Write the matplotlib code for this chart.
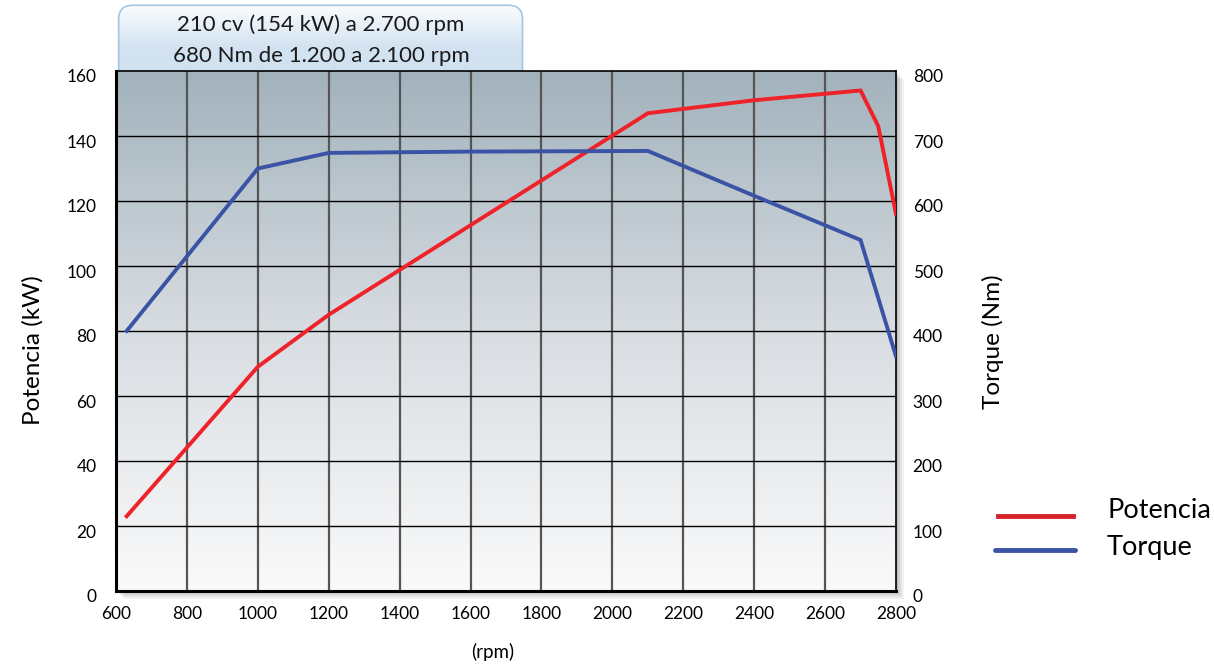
import numpy as np
import matplotlib
matplotlib.use("Agg")
import matplotlib.pyplot as plt
from matplotlib.patches import FancyBboxPatch, Rectangle
from matplotlib.transforms import ScaledTranslation

plt.rcParams['font.family'] = ['Lato', 'DejaVu Sans']

# data
rpm_power = [630, 1000, 1200, 2100, 2400, 2700, 2750, 2800]
power_kw = [23, 69, 85, 147, 151, 154, 143, 116]
rpm_torque = [630, 1000, 1200, 1600, 2100, 2400, 2700, 2800]
torque_nm = [400, 650, 674, 676, 677, 608, 540, 361]

x_ticks = [600, 800, 1000, 1200, 1400, 1600, 1800, 2000, 2200, 2400, 2600, 2800]
kw_ticks = [0, 20, 40, 60, 80, 100, 120, 140, 160]
nm_ticks = [0, 100, 200, 300, 400, 500, 600, 700, 800]
title_lines = ["210 cv (154 kW) a 2.700 rpm", "680 Nm de 1.200 a 2.100 rpm"]

fig = plt.figure(figsize=(12.14, 6.67), dpi=100)
W, H = 1214, 667
l, r, t, b = 116, 896, 71, 591

# title box (sits behind the plot area)
box_ax = fig.add_axes([117 / W, 1 - 90 / H, 408 / W, 86 / H], zorder=0)
box_ax.set_xlim(0, 1)
box_ax.set_ylim(0, 1)
box_ax.axis('off')
grad_box = np.linspace(0, 1, 100).reshape(-1, 1)
img = box_ax.imshow(grad_box, extent=[0, 1, 0, 1], aspect='auto', origin='lower',
                    cmap=matplotlib.colors.LinearSegmentedColormap.from_list('b', ['#cddff0', '#d3e3f1', '#fbfdff']))
box = FancyBboxPatch((0.004, 0.0), 0.99, 0.985, boxstyle="round,pad=0,rounding_size=0.035",
                     mutation_aspect=4.7, facecolor='none', edgecolor='#a8c4de', lw=1.2,
                     transform=box_ax.transAxes)
box_ax.add_patch(box)
img.set_clip_path(box)
box_ax.text(0.5, 1 - 21 / 86, title_lines[0], ha='center', va='center', fontsize=16, color='#1a1a1a')
box_ax.text(0.5, 1 - 52 / 86, title_lines[1], ha='center', va='center', fontsize=16, color='#1a1a1a')

# drop shadow of the plot area
shadow_ax = fig.add_axes([0, 0, 1, 1], zorder=1)
shadow_ax.axis('off')
shadow_ax.set_xlim(0, W)
shadow_ax.set_ylim(H, 0)
for i, a in enumerate([0.05, 0.06, 0.08, 0.10]):
    off = 8 - 2 * i
    shadow_ax.add_patch(Rectangle((l + off, t + off), r - l, b - t, facecolor='black',
                                  alpha=a, edgecolor='none'))

ax = fig.add_axes([l / W, 1 - b / H, (r - l) / W, (b - t) / H], zorder=2)

# gradient background
grad = np.linspace(0, 1, 256).reshape(-1, 1)
cmap = matplotlib.colors.LinearSegmentedColormap.from_list('bg', ['#fafafa', '#d8dde2', '#a2b2bc'])
ax.imshow(grad, extent=[0, 1, 0, 1], transform=ax.transAxes, aspect='auto', origin='lower',
          cmap=cmap, zorder=0)

ax.set_xlim(600, 2800)
ax.set_ylim(0, 160)
ax.set_xticks(x_ticks)
ax.set_yticks(kw_ticks)
for x in x_ticks[1:-1]:
    ax.axvline(x, color='#555555', lw=1.6, zorder=1)
for y in kw_ticks[1:-1]:
    ax.axhline(y, color='black', lw=1.0, zorder=1)
ax.tick_params(length=0, labelsize=12.5, colors='black')
ax.tick_params(axis='x', pad=11)
ax.tick_params(axis='y', pad=14)
for s in ['left', 'bottom']:
    ax.spines[s].set_linewidth(2.2)
for s in ['right', 'top']:
    ax.spines[s].set_linewidth(1.2)
for lab in ax.get_yticklabels():
    lab.set_transform(lab.get_transform() + ScaledTranslation(0, -5 / 100, fig.dpi_scale_trans))

ax2 = ax.twinx()
ax2.set_ylim(0, 800)
ax2.set_yticks(nm_ticks)
ax2.tick_params(length=0, labelsize=12.5, pad=12)
for lab in ax2.get_yticklabels():
    lab.set_transform(lab.get_transform() + ScaledTranslation(0, -5 / 100, fig.dpi_scale_trans))
for s in ax2.spines.values():
    s.set_visible(False)

ax.plot(rpm_power, power_kw, color='#ee2228', lw=2.8, zorder=3, solid_joinstyle='miter')
ax2.plot(rpm_torque, torque_nm, color='#3a53a4', lw=2.8, zorder=3, solid_joinstyle='miter')

fig.text(33 / W, 1 - 350 / H, 'Potencia (kW)', rotation=90, ha='center', va='center', fontsize=17.5)
fig.text(993 / W, 1 - 342 / H, 'Torque (Nm)', rotation=90, ha='center', va='center', fontsize=17.5)
fig.text(493 / W, 1 - 652 / H, '(rpm)', ha='center', va='center', fontsize=13.5)

# legend
fig.lines.append(plt.Line2D([998 / W, 1073 / W], [1 - 516 / H, 1 - 516 / H], transform=fig.transFigure,
                            color='#d9232a', lw=3.5))
fig.lines.append(plt.Line2D([995 / W, 1075 / W], [1 - 550 / H, 1 - 550 / H], transform=fig.transFigure,
                            color='#3a53a4', lw=3.5, solid_capstyle='round'))
fig.text(1107 / W, 1 - 511 / H, 'Potencia', ha='left', va='center', fontsize=19.5)
fig.text(1107 / W, 1 - 548 / H, 'Torque', ha='left', va='center', fontsize=19.5)

fig.savefig('out.png', dpi=100)
